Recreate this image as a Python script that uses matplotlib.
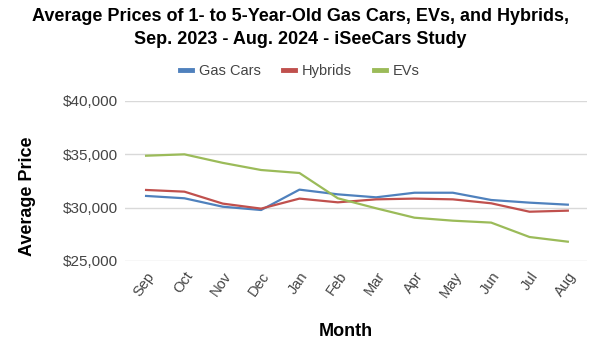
import matplotlib
matplotlib.use("Agg")
import matplotlib.pyplot as plt
from matplotlib.ticker import FuncFormatter

months = ["Sep", "Oct", "Nov", "Dec", "Jan", "Feb", "Mar", "Apr", "May", "Jun", "Jul", "Aug"]
gas_cars = [31100, 30880, 30090, 29780, 31690, 31250, 30970, 31400, 31400, 30720, 30470, 30280]
hybrids = [31660, 31500, 30380, 29910, 30850, 30500, 30780, 30850, 30780, 30410, 29620, 29720]
evs = [34870, 35000, 34200, 33530, 33250, 30880, 29940, 29060, 28780, 28600, 27250, 26810]
y_ticks = [25000, 30000, 35000, 40000]

plt.rcParams['font.family'] = ['Liberation Sans', 'DejaVu Sans']

fig = plt.figure(figsize=(6, 3.47), dpi=100)
ax = fig.add_axes([125/600, (347-261)/347, (587-125)/600, (261-101)/347])

x = list(range(len(months)))
ax.plot(x, gas_cars, color="#4F81BD", lw=1.6, label="Gas Cars")
ax.plot(x, hybrids, color="#C0504D", lw=1.6, label="Hybrids")
ax.plot(x, evs, color="#9BBB59", lw=1.6, label="EVs")

ax.set_xlim(-0.55, 11.5)
ax.set_ylim(25000, 40000)
ax.set_yticks(y_ticks)
ax.yaxis.set_major_formatter(FuncFormatter(lambda v, p: f"${v:,.0f}"))
ax.set_xticks(x)
ax.set_xticklabels(months, rotation=55, ha="right", rotation_mode="anchor")
ax.grid(axis="y", color="#d9d9d9", lw=1)
ax.set_axisbelow(True)
for s in ax.spines.values():
    s.set_visible(False)
ax.tick_params(axis="both", length=0, colors="#444444")
ax.tick_params(axis="x", pad=6, labelsize=10.5)
ax.tick_params(axis="y", pad=5, labelsize=11)

ax.set_xlabel("Month", fontsize=13, fontweight="bold")
ax.xaxis.set_label_coords((346-125)/462, (261-332)/160)
ax.xaxis.label.set_va("center")
ax.set_ylabel("Average Price", fontsize=13, fontweight="bold")
ax.yaxis.set_label_coords((27-125)/462, (261-196)/160)
ax.yaxis.label.set_va("center")

fig.text(0.5, 1 - 8/347, "Average Prices of 1- to 5-Year-Old Gas Cars, EVs, and Hybrids,\nSep. 2023 - Aug. 2024 - iSeeCars Study",
         ha="center", va="top", fontsize=13.0, fontweight="bold", linespacing=1.45)

leg = fig.legend(loc="center", bbox_to_anchor=(0.5, 1 - 71/347), ncol=3, frameon=False,
                 fontsize=10.5, handlelength=0.8, columnspacing=1.5, handletextpad=0.5)
for h in leg.get_lines():
    h.set_linewidth(3.5)
for t in leg.get_texts():
    t.set_color("#444444")

fig.savefig("out.png", dpi=100)
